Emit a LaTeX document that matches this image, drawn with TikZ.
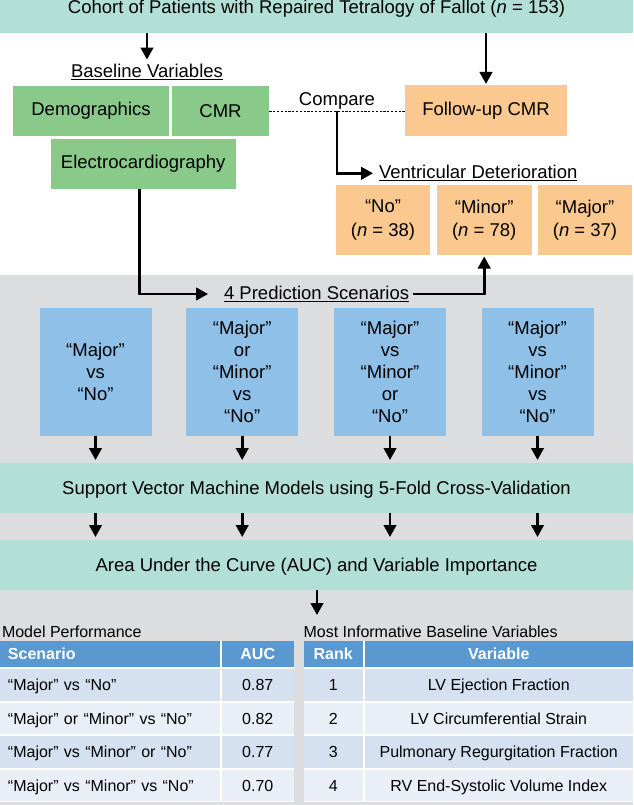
\documentclass[tikz,border=0pt]{standalone}
\usepackage{fontspec}
\setmainfont{Liberation Sans}
\usetikzlibrary{arrows.meta,calc}
\definecolor{tealband}{RGB}{178,224,214}
\definecolor{greenbox}{RGB}{137,201,138}
\definecolor{orangebox}{RGB}{251,200,143}
\definecolor{bluebox}{RGB}{142,192,232}
\definecolor{graybg}{RGB}{220,221,223}
\definecolor{hdrblue}{RGB}{90,152,208}
\definecolor{rowa}{RGB}{213,224,240}
\definecolor{rowb}{RGB}{234,239,247}
\tikzset{
  sz/.style 2 args={minimum width=#1pt, minimum height=#2pt},
  big/.style={font=\fontsize{18.5}{22}\selectfont},
  small/.style={font=\fontsize{16}{19}\selectfont},
  arr/.style={line width=2.6pt, -{Triangle[width=12.5pt,length=12pt]}},
  dashline/.style={line width=0.9pt, dash pattern=on 2.2pt off 1.6pt},
  gbox/.style={fill=greenbox, big, align=center},
  obox/.style={fill=orangebox, font=\fontsize{18.5}{23.4}\selectfont, align=center},
  bbox/.style={fill=bluebox, big, align=center},
  band/.style={fill=tealband, big},
  cell/.style={small, minimum height=31.5pt, text height=11.5pt, text depth=0pt},
  hdr/.style={cell, fill=hdrblue, text=white, font=\fontsize{16}{19}\selectfont\bfseries, minimum height=26.5pt},
}
\begin{document}
\begin{tikzpicture}[x=1pt,y=-1pt, every node/.style={inner sep=0pt, outer sep=0pt}]
\useasboundingbox (0,0) rectangle (633,805);
\fill[graybg] (0,275) rectangle (633,805);
% top band
\node[band, sz={633}{33.3}, anchor=north west] (topband) at (0,0) {};
\node[big, anchor=base] (ttl) at (316.5,14) {Cohort of Patients with Repaired Tetralogy of Fallot (\textit{n} = 153)};
% baseline variables
\node[big, anchor=base] (basel) at (147,78) {\underline{Baseline Variables}};
\node[gbox, sz={156.6}{50}] (demo) at (91,111) {Demographics};
\node[gbox, sz={97.6}{50}] (cmr) at (220.5,111) {CMR};
\node[gbox, sz={185.5}{50}] (ecg) at (143.25,164) {Electrocardiography};
\node[obox, sz={162}{51}] (fup) at (486,111) {Follow-up CMR};
\node[big, anchor=base] (cmp) at (337,106) {Compare};
\draw[arr, shorten >=5pt] (topband.south -| basel.north) -- (basel.north);
\draw[arr, shorten >=1.5pt] (topband.south -| fup.north) -- (fup.north);
\draw[dashline] (cmr.east) -- (fup.west);
\coordinate (vsplit) at ($(cmr.east)!0.5!(fup.west)$);
\node[big, anchor=west] (vdet) at (379,173.3) {\underline{Ventricular Deterioration}};
\draw[arr, shorten >=6pt] (vsplit) |- (vdet.west);
% ventricular deterioration boxes
\node[obox, sz={94}{70}] (ono) at (383,220) {“No”\\(\textit{n} = 38)};
\node[obox, sz={95}{70}] (ominor) at (484.2,220) {“Minor”\\(\textit{n} = 78)};
\node[obox, sz={93.4}{70}] (omajor) at (585,220) {“Major”\\(\textit{n} = 37)};
% prediction scenarios
\node[big] (pred) at (316.6,294) {\underline{4 Prediction Scenarios}};
\draw[arr, shorten >=16pt] ([xshift=-4pt]ecg.south) |- (pred.west);
\draw[arr, shorten >=1.5pt] ([xshift=4pt]pred.east) -| (ominor.south);
\node[bbox, sz={112}{127.4}] (b1) at (95.5,372) {“Major”\\vs\\“No”};
\node[bbox, sz={112}{127.4}] (b2) at (242.2,372) {“Major”\\or\\“Minor”\\vs\\“No”};
\node[bbox, sz={112}{127.4}] (b3) at (390,372) {“Major”\\vs\\“Minor”\\or\\“No”};
\node[bbox, sz={112}{127.4}] (b4) at (537.5,372) {“Major”\\vs\\“Minor”\\vs\\“No”};
% bands
\node[band, sz={633}{50}, text height=13.2pt, text depth=0pt] (svm) at (316.5,488) {Support Vector Machine Models using 5-Fold Cross-Validation};
\node[band, sz={633}{50}, text height=13.2pt, text depth=0pt] (auc) at (316.5,565) {Area Under the Curve (AUC) and Variable Importance};
\foreach \b in {b1,b2,b3,b4} {
  \draw[arr, shorten >=3pt] (\b.south) -- (\b.south |- svm.north);
  \draw[arr, shorten >=3pt] (svm.south -| \b.south) -- (auc.north -| \b.south);
}
\coordinate (tabtop) at (317,615);
\draw[arr] (auc.south -| tabtop) -- (tabtop);
% tables
\node[small, anchor=base west] (mp) at (2,637) {Model Performance};
\node[small, anchor=base west] (mi) at (303.6,637) {Most Informative Baseline Variables};
\fill[white] (0,640.5) rectangle (294,801.5);
\fill[white] (304,640.5) rectangle (633,801.5);
\node[hdr, text width=203.5pt, inner xsep=8pt, align=left, anchor=north west] (hs) at (0,640.5) {Scenario};
\node[hdr, sz={72.5}{26.5}, anchor=north west] (ha) at (221.5,640.5) {AUC};
\node[hdr, sz={58.5}{26.5}, anchor=north west] (hr) at (304,640.5) {Rank};
\node[hdr, sz={268.5}{26.5}, anchor=north west] (hv) at (364.5,640.5) {Variable};
\foreach \i/\sc/\au/\va/\col in {
  0/“Major” vs “No”/0.87/LV Ejection Fraction/rowa,
  1/“Major” or “Minor” vs “No”/0.82/LV Circumferential Strain/rowb,
  2/“Major” vs “Minor” or “No”/0.77/Pulmonary Regurgitation Fraction/rowa,
  3/“Major” vs “Minor” vs “No”/0.70/RV End-Systolic Volume Index/rowb} {
  \pgfmathsetmacro\yy{669+33.6*\i}
  \pgfmathtruncatemacro\rk{\i+1}
  \node[cell, fill=\col, text width=203.5pt, inner xsep=8pt, align=left, anchor=north west] (s\i) at (0,\yy) {\sc};
  \node[cell, fill=\col, sz={72.5}{31.5}, anchor=north west] (a\i) at (221.5,\yy) {\au};
  \node[cell, fill=\col, sz={58.5}{31.5}, anchor=north west] (r\i) at (304,\yy) {\rk};
  \node[cell, fill=\col, sz={268.5}{31.5}, anchor=north west] (v\i) at (364.5,\yy) {\va};
}
\end{tikzpicture}
\end{document}
